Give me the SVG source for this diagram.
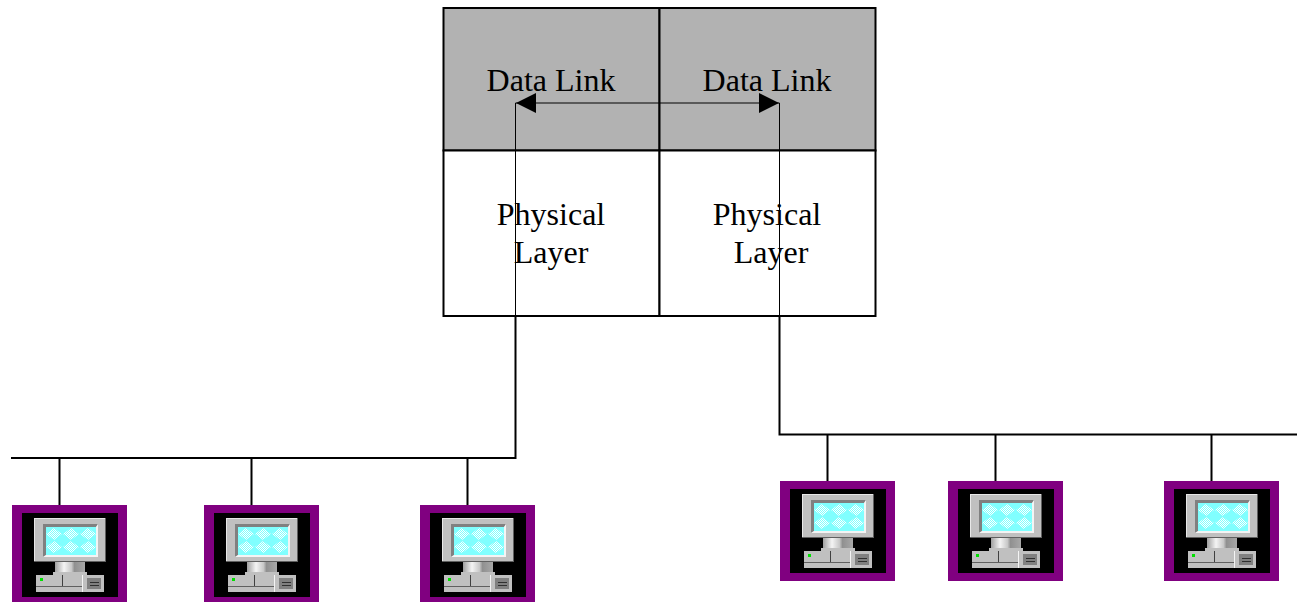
<svg xmlns="http://www.w3.org/2000/svg" width="1297" height="602" viewBox="0 0 1297 602">
<style>
.c{fill:none;stroke:#000;stroke-width:2}
.t{fill:none;stroke:#000;stroke-width:1}
.b{stroke:#000;stroke-width:2}
text{font-family:"Liberation Serif","Times New Roman",serif;font-size:32px;fill:#000;text-anchor:middle}
</style>
<defs>
<pattern id="dither" width="2" height="2" patternUnits="userSpaceOnUse"><rect width="2" height="2" fill="#80ffff"/><rect width="1" height="1" fill="#fff"/><rect x="1" y="1" width="1" height="1" fill="#fff"/></pattern>
<linearGradient id="neck"><stop offset="0" stop-color="#a0a0a0"/><stop offset=".3" stop-color="#f4f4f4"/><stop offset=".55" stop-color="#c8c8c8"/><stop offset=".65" stop-color="#909090"/><stop offset="1" stop-color="#a8a8a8"/></linearGradient>
<g id="pc">
<rect width="115" height="100" fill="#800080"/>
<rect x="10" y="8" width="96" height="84" fill="#000"/>
<rect x="22" y="13" width="72" height="44" fill="#c0c0c0"/>
<path d="M22 13H94V14H23V57H22Z" fill="#e8e8e8"/>
<path d="M94 13V57H22V56H93V13Z" fill="#606060"/>
<path d="M31 19H86L84 22H34V50L31 52Z" fill="#808080"/>
<path d="M86 19V52H31L34 50H84V22Z" fill="#f4f4f4"/>
<rect x="34" y="22" width="50" height="28" fill="#80ffff"/>
<path d="M42 23L50 29L42 35L34 29ZM59 23L67 29L59 35L51 29ZM76 23L84 29L76 35L68 29ZM42 36L50 42L42 48L34 42ZM59 36L67 42L59 48L51 42ZM76 36L84 42L76 48L68 42Z" fill="url(#dither)"/>
<rect x="43" y="57" width="30" height="10" fill="url(#neck)"/>
<rect x="41" y="67" width="34" height="3" fill="#c0c0c0"/>
<rect x="24" y="70" width="68" height="17" fill="#c0c0c0"/>
<rect x="24" y="81" width="47" height="1" fill="#606060"/>
<rect x="50" y="70" width="1" height="11" fill="#404040"/>
<rect x="70" y="70" width="1" height="17" fill="#f4f4f4"/>
<rect x="75" y="73" width="14" height="11" fill="#808080"/>
<rect x="78" y="77" width="9" height="1" fill="#303030"/>
<rect x="78" y="80" width="9" height="1" fill="#303030"/>
<rect x="28" y="73" width="3" height="3" fill="#00e000"/>
</g>
</defs>
<g id="node-dl-left"><rect x="443.500" y="8" width="216" height="142.500" fill="#b2b2b2" class="b"/><text x="551" y="91">Data Link</text></g>
<g id="node-dl-right"><rect x="659.500" y="8" width="216" height="142.500" fill="#b2b2b2" class="b"/><text x="767" y="91">Data Link</text></g>
<g id="node-ph-left"><rect x="443.500" y="150.500" width="216" height="165.500" fill="#fff" class="b"/><text x="551" y="225">Physical</text><text x="551" y="263">Layer</text></g>
<g id="node-ph-right"><rect x="659.500" y="150.500" width="216" height="165.500" fill="#fff" class="b"/><text x="767" y="225">Physical</text><text x="771" y="263">Layer</text></g>
<g id="connectors">
<path class="t" d="M515.500 316V103H779.500V316"/>
<path d="M516 103L536 93V113Z" fill="#000"/>
<path d="M779 103L759 93V113Z" fill="#000"/>
<path class="c" d="M515.500 316V458H11"/>
<path class="c" d="M59.500 458V505M251.500 458V505M467.500 458V505"/>
<path class="c" d="M779.500 316V434.500H1297"/>
<path class="c" d="M827.500 434.500V481M995.500 434.500V481M1211.500 434.500V481"/>
</g>
<use id="pc-1" href="#pc" x="12" y="505"/>
<use id="pc-2" href="#pc" x="204" y="505"/>
<use id="pc-3" href="#pc" x="420" y="505"/>
<use id="pc-4" href="#pc" x="780" y="481"/>
<use id="pc-5" href="#pc" x="948" y="481"/>
<use id="pc-6" href="#pc" x="1164" y="481"/>
</svg>
